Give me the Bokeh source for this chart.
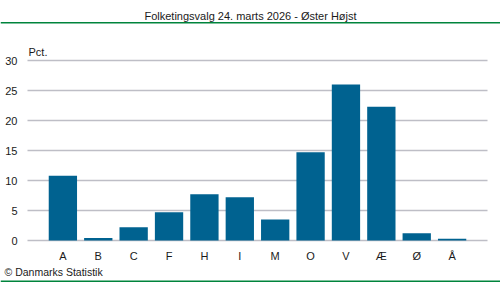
from bokeh.plotting import figure
from bokeh.models import Label, BoxAnnotation, FixedTicker, Range1d
from bokeh.embed import file_html
from bokeh.resources import INLINE

categories = ["A", "B", "C", "F", "H", "I", "M", "O", "V", "Æ", "Ø", "Å"]
values = [10.8, 0.4, 2.2, 4.7, 7.7, 7.2, 3.5, 14.7, 26.0, 22.3, 1.2, 0.3]
y_ticks = [0, 5, 10, 15, 20, 25, 30]
title_text = "Folketingsvalg 24. marts 2026 - Øster Højst"
unit_text = "Pct."
source_text = "© Danmarks Statistik"

FONT = "Liberation Sans"
FS = "11px"
BAR = "#006290"
GRID = "#BEBEC6"
GREEN = "#00843C"
TXT = "#1a1a1a"

W, H = 500, 282
# plot area in canvas pixels
FL, FR, FT, FB = 27, 487, 30, 240
n = len(categories)
xa0, xa1 = 0, n + 1          # data x over plot area
ya0, ya1 = 0, 35             # data y over plot area
px = (FR - FL) / (xa1 - xa0)
py = (FB - FT) / (ya1 - ya0)

def dx(cx):
    return xa0 + (cx - FL) / px

def dy(cy):
    return ya0 + (FB - cy) / py

p = figure(width=W, height=H, output_backend="svg", toolbar_location=None,
           x_range=Range1d(dx(0), dx(W)), y_range=Range1d(dy(H), dy(0)),
           min_border=0)
p.outline_line_color = None
p.background_fill_color = "white"
p.border_fill_color = "white"
p.xgrid.visible = False
p.ygrid.visible = False

# grid lines across the plot area
p.segment(x0=[xa0] * len(y_ticks), x1=[xa1] * len(y_ticks), y0=y_ticks, y1=y_ticks,
          line_color=GRID, line_width=1.3)

xs = list(range(1, n + 1))
p.vbar(x=xs, top=values, width=0.8, bottom=0, color=BAR, line_color=None)

xa = p.xaxis[0]
xa.fixed_location = 0
xa.ticker = FixedTicker(ticks=xs)
xa.major_label_overrides = {x: c for x, c in zip(xs, categories)}
xa.axis_line_color = None
xa.major_tick_line_color = None
xa.minor_tick_line_color = None
xa.major_label_standoff = 3
xa.major_label_text_font = FONT
xa.major_label_text_font_size = FS
xa.major_label_text_color = TXT

ya = p.yaxis[0]
ya.fixed_location = xa0
ya.ticker = FixedTicker(ticks=y_ticks)
ya.axis_line_color = None
ya.major_tick_line_color = None
ya.minor_tick_line_color = None
ya.major_label_standoff = 4
ya.major_label_text_font = FONT
ya.major_label_text_font_size = FS
ya.major_label_text_color = TXT

def lab(x, y, text, align, fs=FS):
    return Label(x=x, y=y, x_units="canvas", y_units="canvas", text=text, text_font=FONT,
                 text_font_size=fs, text_align=align, text_baseline="middle", text_color=TXT)

p.add_layout(lab(250, 15, title_text, "center"))
p.add_layout(lab(28, 51, unit_text, "left"))
p.add_layout(lab(4, 271, source_text, "left", "10.5px"))
p.add_layout(BoxAnnotation(left=0, right=W, top=21.5, bottom=23, left_units="canvas", right_units="canvas",
                           top_units="canvas", bottom_units="canvas", fill_color=GREEN,
                           fill_alpha=1, line_color=None))
p.add_layout(BoxAnnotation(left=0, right=W, top=280, bottom=282, left_units="canvas", right_units="canvas",
                           top_units="canvas", bottom_units="canvas", fill_color=GREEN,
                           fill_alpha=1, line_color=None))

open("out.html", "w").write(file_html(p, INLINE))
